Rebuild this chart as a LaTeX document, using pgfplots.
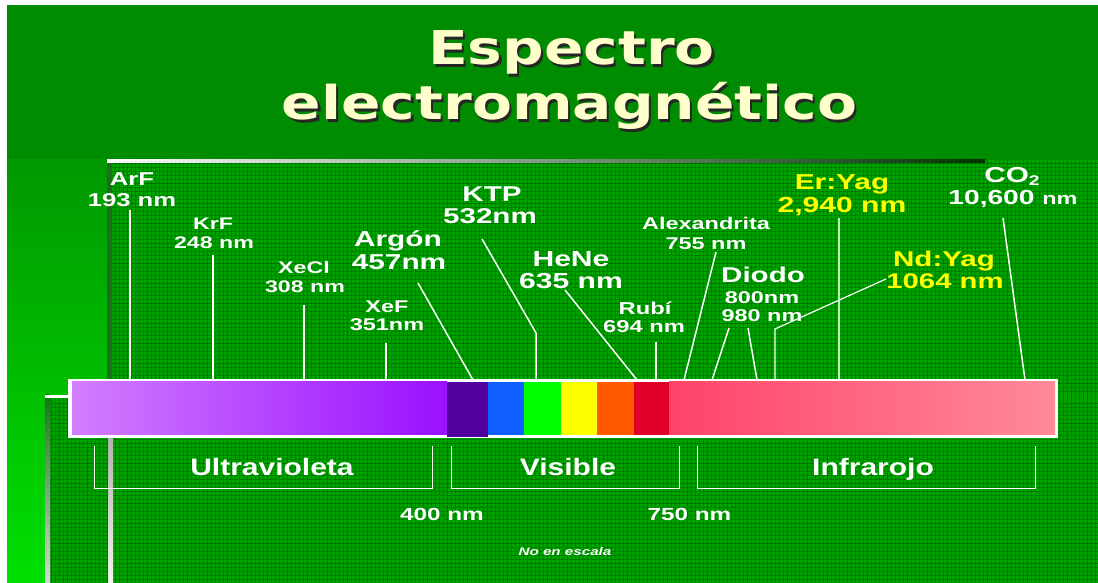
\documentclass[border=0pt]{standalone}
\usepackage{pgfplots}
\pgfplotsset{compat=1.18}
\usepackage{fontspec}
\setmainfont{Liberation Sans}
\newfontfamily\labf{Liberation Sans}[FakeStretch=1.38]
\newfontfamily\brf{Liberation Sans}[FakeStretch=1.26]
\newfontfamily\titf{DejaVu Sans}[FakeStretch=1.25]
\definecolor{topg}{HTML}{008C00}
\definecolor{stript}{HTML}{009800}
\definecolor{stripb}{HTML}{00E000}
\definecolor{panelg}{HTML}{00A200}
\definecolor{gridmin}{HTML}{008000}
\definecolor{gridmaj}{HTML}{007400}
\definecolor{uvl}{HTML}{D27EFF}
\definecolor{uvr}{HTML}{9A10FF}
\definecolor{vpur}{HTML}{5300A0}
\definecolor{vblu}{HTML}{1060FF}
\definecolor{vgre}{HTML}{00FF00}
\definecolor{vyel}{HTML}{FFFF00}
\definecolor{vora}{HTML}{FF5A00}
\definecolor{vred}{HTML}{E0002A}
\definecolor{irl}{HTML}{FF4468}
\definecolor{irr}{HTML}{FF8A9A}
\definecolor{titcol}{HTML}{FFFFCC}
\definecolor{ylab}{HTML}{FFFF00}
\definecolor{bevdark}{HTML}{1C701C}
\pgfplotsset{
  pix/.style={scale only axis, width=549pt, height=291.5pt,
    xmin=0, xmax=1098, ymin=0, ymax=583, y dir=reverse,
    hide axis, clip=false, at={(0,0)}, anchor=south west},
  gridpanel/.style={scale only axis, anchor=south west,
    axis background/.style={fill=panelg},
    axis line style={draw=none},
    grid=both, xtick distance=20, ytick distance=20,
    minor x tick num=4, minor y tick num=4,
    major tick length=0pt, minor tick length=0pt,
    xticklabel=\empty, yticklabel=\empty,
    major grid style={line width=0.4pt, draw=gridmaj},
    minor grid style={line width=0.28pt, draw=gridmin}},
}
\newcommand\rect[5]{\addplot[draw=none, #5] coordinates {(#1,#2) (#3,#2) (#3,#4) (#1,#4)} -- cycle;}
\newcommand\lab[5]{\node[anchor=base, inner sep=0pt, text=#4, font=\labf\bfseries\fontsize{#3}{#3}\selectfont] at (axis cs:#1,#2) {#5};}
\begin{document}
\begin{tikzpicture}
% background
\begin{axis}[pix]
\rect{7}{5}{1098}{583}{fill=topg}
\rect{7}{160}{107}{583}{top color=stript, bottom color=stripb}
\end{axis}
% panel 1
\begin{axis}[gridpanel, at={(53.5pt,0pt)}, width=495.5pt, height=211.5pt,
  xmin=0, xmax=991, ymin=0, ymax=423]
\end{axis}
% panel 2
\begin{axis}[gridpanel, at={(23.5pt,0pt)}, width=525.5pt, height=94pt,
  xmin=0, xmax=1051, ymin=0, ymax=188]
\end{axis}
% content
\begin{axis}[pix]
% bevels and edges
\rect{107}{160}{112}{380}{fill=bevdark}
\rect{108}{438}{113}{583}{top color=black!30!white, bottom color=white!95!black}
\rect{45}{395}{50}{583}{top color=bevdark, bottom color=white!85!black}
\rect{45}{395}{70}{398}{fill=white}
\rect{107}{160}{985}{163}{left color=white, middle color=black!22, right color=black!80!green}
% leader lines
\addplot[white, line width=0.75pt] coordinates {(130,210) (130,380)};
\addplot[white, line width=0.75pt] coordinates {(213,255) (213,380)};
\addplot[white, line width=0.75pt] coordinates {(304,305) (304,380)};
\addplot[white, line width=0.75pt] coordinates {(386,343) (386,380)};
\addplot[white, line width=0.75pt] coordinates {(418,283) (473,380)};
\addplot[white, line width=0.75pt] coordinates {(482,239) (536,333) (536,380)};
\addplot[white, line width=0.75pt] coordinates {(565,290) (637,380)};
\addplot[white, line width=0.75pt] coordinates {(656,342) (656,380)};
\addplot[white, line width=0.75pt] coordinates {(716,252) (684,380)};
\addplot[white, line width=0.75pt] coordinates {(729,328) (712,380)};
\addplot[white, line width=0.75pt] coordinates {(748,328) (757,380)};
\addplot[white, line width=0.6pt] coordinates {(886,279) (775,329) (775,380)};
\addplot[white!75!green, line width=0.75pt] coordinates {(839,218) (839,380)};
\addplot[white, line width=0.75pt] coordinates {(1003,218) (1025,380)};
% spectrum bar
\rect{68}{379}{1058}{438}{fill=white}
\rect{72}{382}{447}{435}{left color=uvl, right color=uvr}
\rect{447}{382}{488}{437.5}{fill=vpur}
\rect{488}{382}{524}{435}{fill=vblu}
\rect{524}{382}{561}{435}{fill=vgre}
\rect{561}{382}{597}{435}{fill=vyel}
\rect{597}{382}{634}{435}{fill=vora}
\rect{634}{382}{669}{435}{fill=vred}
\rect{669}{382}{1055}{435}{left color=irl, right color=irr}
% brackets
\addplot[white, line width=0.5pt] coordinates {(94,446) (94,488) (432,488) (432,446)};
\addplot[white, line width=0.5pt] coordinates {(451,446) (451,488) (679,488) (679,446)};
\addplot[white, line width=0.5pt] coordinates {(697,446) (697,488) (1035,488) (1035,446)};
% title
\node[anchor=base, inner sep=0pt, text=black!85, font=\titf\bfseries\fontsize{23.3}{28}\selectfont] at ([xshift=1.1pt,yshift=-1.1pt]axis cs:571.5,65) {Espectro};
\node[anchor=base, inner sep=0pt, text=titcol, font=\titf\bfseries\fontsize{23.3}{28}\selectfont] at (axis cs:571.5,65) {Espectro};
\node[anchor=base, inner sep=0pt, text=black!85, font=\titf\bfseries\fontsize{23.3}{28}\selectfont] at ([xshift=1.1pt,yshift=-1.1pt]axis cs:569.5,120) {electromagnético};
\node[anchor=base, inner sep=0pt, text=titcol, font=\titf\bfseries\fontsize{23.3}{28}\selectfont] at (axis cs:569.5,120) {electromagnético};
% labels
\lab{132}{186}{9.3}{white}{ArF}
\lab{132}{207}{9.3}{white}{193 nm}
\lab{213}{230}{8.4}{white}{KrF}
\lab{214}{249}{8.4}{white}{248 nm}
\lab{304}{274}{8.4}{white}{XeCl}
\lab{305}{293}{8.4}{white}{308 nm}
\lab{387}{313}{8.5}{white}{XeF}
\lab{387}{331}{8.5}{white}{351nm}
\lab{398}{247}{10.8}{white}{Argón}
\lab{399}{270}{10.8}{white}{457nm}
\lab{492}{202}{10.7}{white}{KTP}
\lab{490}{224}{10.7}{white}{532nm}
\lab{571}{267}{10.9}{white}{HeNe}
\lab{571}{289}{10.9}{white}{635 nm}
\lab{645}{315}{8.6}{white}{Rubí}
\lab{644}{333}{8.6}{white}{694 nm}
\lab{706}{230}{8.5}{white}{Alexandrita}
\lab{706}{250}{8.5}{white}{755 nm}
\lab{763}{283}{10.7}{white}{Diodo}
\lab{762}{304}{8.5}{white}{800nm}
\lab{762}{322}{8.5}{white}{980 nm}
\lab{842}{190}{10.8}{ylab}{Er:Yag}
\lab{842}{213}{10.9}{ylab}{2,940 nm}
\lab{944}{267}{10.7}{ylab}{Nd:Yag}
\lab{945}{289}{10.6}{ylab}{1064 nm}
\lab{1012}{183}{10.8}{white}{CO\raisebox{-0.25ex}{\fontsize{7}{7}\selectfont 2}}
\lab{1013}{205}{10.2}{white}{10,600 {\fontsize{8.5}{8.5}\selectfont nm}}
\node[anchor=base, inner sep=0pt, text=white, font=\brf\bfseries\fontsize{11.9}{12}\selectfont] at (axis cs:272,476) {Ultravioleta};
\node[anchor=base, inner sep=0pt, text=white, font=\brf\bfseries\fontsize{11.9}{12}\selectfont] at (axis cs:568,476) {Visible};
\node[anchor=base, inner sep=0pt, text=white, font=\brf\bfseries\fontsize{11.9}{12}\selectfont] at (axis cs:873,476) {Infrarojo};
\lab{442}{520}{8.8}{white}{400 nm}
\lab{689.5}{520}{8.8}{white}{750 nm}
\node[anchor=base, inner sep=0pt, text=white, font=\labf\bfseries\itshape\fontsize{5.5}{6}\selectfont] at (axis cs:565,555) {No en escala};
\end{axis}
\pgfresetboundingbox
\path (0,0) rectangle (549pt,291.5pt);
\end{tikzpicture}
\end{document}
